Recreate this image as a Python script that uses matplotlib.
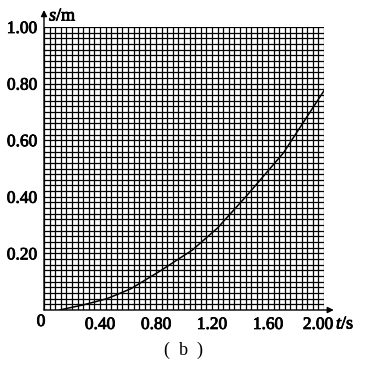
import numpy as np
import matplotlib.pyplot as plt
import matplotlib.transforms as mtransforms
import matplotlib.patheffects as pe

plt.rcParams["font.family"] = "Liberation Serif"
plt.rcParams["font.size"] = 12.5
plt.rcParams["mathtext.fontset"] = "custom"
plt.rcParams["mathtext.it"] = "Liberation Serif:italic"
plt.rcParams["mathtext.rm"] = "Liberation Serif"

# curve (t in s, s in m)
t = [0.11, 0.28, 0.45, 0.62, 0.83, 1.06, 1.24, 1.45, 1.71, 2.00]
s = [0.0, 0.018, 0.040, 0.075, 0.138, 0.212, 0.290, 0.405, 0.555, 0.775]

xticks = [0.40, 0.80, 1.20, 1.60, 2.00]
xlabels = ["0.40", "0.80", "1.20", "1.60", "2.00"]
yticks = [0.20, 0.40, 0.60, 0.80, 1.00]
ylabels = ["0.20", "0.40", "0.60", "0.80", "1.00"]

heavy = [pe.withStroke(linewidth=0.6, foreground="black")]

W, H = 365, 366
fig = plt.figure(figsize=(W / 100, H / 100), dpi=100)
# axes box in pixels: left 44, right 324, top 27, bottom 310
ax = fig.add_axes([44 / W, 1 - 310 / H, 280 / W, 283 / H])

ax.set_xlim(0, 2.0)
ax.set_ylim(0, 1.0)

# graph paper
for gx in np.arange(0, 2.0001, 0.04):
    ax.axvline(gx, color="black", lw=0.9, zorder=1)
for gy in np.arange(0, 1.0001, 0.02):
    ax.axhline(gy, color="black", lw=0.9, zorder=1)

ax.plot(t, s, color="black", lw=1.1, zorder=3)

for sp in ax.spines.values():
    sp.set_visible(False)
ax.set_xticks(xticks)
ax.set_xticklabels(xlabels)
ax.set_yticks(yticks)
ax.set_yticklabels(ylabels)
ax.tick_params(axis="y", length=0, pad=5)
ax.tick_params(axis="x", length=0, pad=5)
for lab in ax.get_xticklabels() + ax.get_yticklabels():
    lab.set_path_effects(heavy)

# nudge last x label left so it sits before "t/s"
last = ax.get_xticklabels()[-1]
last.set_transform(last.get_transform() +
                   mtransforms.ScaledTranslation(-6 / 100, 0, fig.dpi_scale_trans))

# axes with arrows
ax.annotate("", xy=(2.07, 0), xytext=(0, 0), xycoords="data",
            arrowprops=dict(arrowstyle="-|>", color="black", lw=1.0,
                            mutation_scale=9, shrinkA=0, shrinkB=0),
            annotation_clip=False)
ax.annotate("", xy=(0, 1.06), xytext=(0, 0), xycoords="data",
            arrowprops=dict(arrowstyle="-|>", color="black", lw=1.0,
                            mutation_scale=9, shrinkA=0, shrinkB=0),
            annotation_clip=False)

fig.text(49 / W, 1 - 16 / H, r"$\mathit{s}$/m", fontsize=13, va="center",
         ha="left", path_effects=heavy)
fig.text(336 / W, 1 - 324 / H, r"$\mathit{t}$/s", fontsize=13, va="center",
         ha="left", path_effects=heavy)
fig.text(184 / W, 1 - 350 / H, "(  b  )", fontsize=13, va="center", ha="center")
fig.text(41 / W, 1 - 322 / H, "0", fontsize=12.5, va="center", ha="center",
         path_effects=heavy)

fig.savefig("out.png", dpi=100)
